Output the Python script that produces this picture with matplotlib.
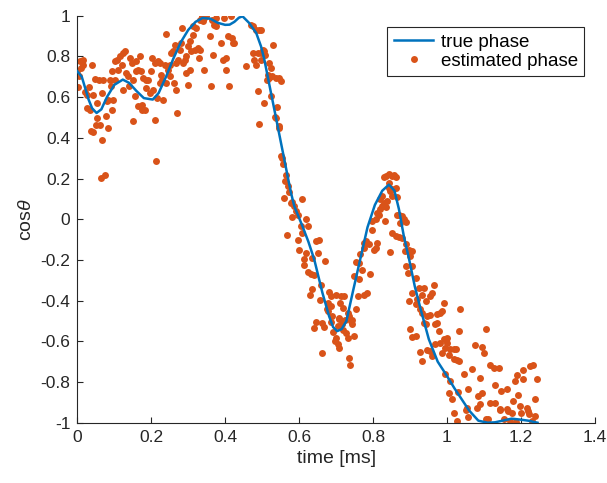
import matplotlib
matplotlib.use("Agg")
import matplotlib.pyplot as plt
from matplotlib.ticker import FuncFormatter

plt.rcParams["font.family"] = ["Liberation Sans", "DejaVu Sans"]
plt.rcParams["axes.unicode_minus"] = False
plt.rcParams["mathtext.fontset"] = "custom"
plt.rcParams["mathtext.it"] = "Liberation Sans:italic"

# true phase
t_true = [0.000, 0.012, 0.022, 0.030, 0.040, 0.052, 0.065, 0.080, 0.100, 0.123,
          0.140, 0.160, 0.180, 0.204, 0.220, 0.240, 0.260, 0.280, 0.300, 0.320,
          0.339, 0.360, 0.380, 0.400, 0.412, 0.425, 0.437, 0.447, 0.465, 0.484,
          0.497, 0.506, 0.515, 0.524, 0.533, 0.542, 0.551, 0.560, 0.569, 0.578,
          0.587, 0.609, 0.625, 0.641, 0.663, 0.681, 0.692, 0.703, 0.715, 0.728,
          0.745, 0.765, 0.785, 0.805, 0.825, 0.843, 0.858, 0.870, 0.883, 0.898,
          0.913, 0.930, 0.951, 0.975, 1.000, 1.020, 1.040, 1.060, 1.085, 1.110,
          1.130, 1.150, 1.175, 1.200, 1.220, 1.245]
v_true = [0.727, 0.700, 0.640, 0.590, 0.545, 0.522, 0.540, 0.600, 0.660, 0.686,
          0.670, 0.630, 0.595, 0.588, 0.620, 0.700, 0.790, 0.870, 0.930, 0.970,
          0.989, 0.985, 0.965, 0.955, 0.956, 0.970, 0.990, 0.997, 0.964, 0.915,
          0.849, 0.784, 0.702, 0.620, 0.539, 0.457, 0.375, 0.293, 0.211, 0.130,
          0.064, -0.034, -0.110, -0.198, -0.361, -0.476, -0.530, -0.550, -0.540, -0.500,
          -0.360, -0.200, -0.040, 0.070, 0.140, 0.170, 0.140, 0.050, -0.080, -0.200,
          -0.330, -0.450, -0.590, -0.700, -0.770, -0.830, -0.885, -0.940, -0.990, -1.000,
          -0.998, -0.990, -0.980, -0.985, -0.990, -1.000]

# estimated phase samples
t_est = [
    # 0 - 0.46
    0.000, 0.007, 0.0145, 0.0055, 0.009, 0.003, 0.016, 0.021, 0.025, 0.025,
    0.032, 0.039, 0.034, 0.036, 0.043, 0.043, 0.048, 0.052, 0.052, 0.050,
    0.059, 0.066, 0.061, 0.068, 0.063, 0.070, 0.075, 0.077, 0.079, 0.084,
    0.084, 0.088, 0.093, 0.097, 0.095, 0.090, 0.102, 0.106, 0.102, 0.111,
    0.115, 0.120, 0.124, 0.124, 0.129, 0.133, 0.138, 0.140, 0.142, 0.147,
    0.151, 0.151, 0.156, 0.158, 0.160, 0.165, 0.165, 0.169, 0.171, 0.174,
    0.176, 0.178, 0.182, 0.185, 0.187, 0.191, 0.196, 0.200, 0.203, 0.205,
    0.209, 0.212, 0.209, 0.216, 0.218, 0.223, 0.223, 0.227, 0.230, 0.232,
    0.236, 0.241, 0.241, 0.245, 0.250, 0.250, 0.254, 0.259, 0.261, 0.263,
    0.266, 0.268, 0.270, 0.272, 0.277, 0.281, 0.284, 0.286, 0.290, 0.293,
    0.295, 0.299, 0.299, 0.304, 0.306, 0.308, 0.313, 0.313, 0.317, 0.322,
    0.326, 0.329, 0.331, 0.333, 0.338, 0.340, 0.343, 0.344, 0.349, 0.358,
    0.362, 0.365, 0.367, 0.371, 0.374, 0.376, 0.389, 0.394, 0.398, 0.401,
    0.403, 0.407, 0.410, 0.416, 0.419, 0.421, 0.425, 0.457,
    # first fall
    0.470, 0.476, 0.483, 0.491, 0.497, 0.530, 0.474, 0.479, 0.483, 0.488,
    0.497, 0.501, 0.506, 0.509, 0.497, 0.518, 0.524, 0.515, 0.519, 0.512,
    0.528, 0.537, 0.545, 0.551, 0.488, 0.524, 0.506, 0.539, 0.492, 0.536,
    0.537, 0.546, 0.545, 0.551, 0.555, 0.557, 0.564, 0.563, 0.569, 0.573,
    0.560, 0.578, 0.582, 0.609, 0.587,
    0.591, 0.598, 0.581, 0.618, 0.605, 0.625, 0.567, 0.609, 0.596, 0.645,
    0.654, 0.620, 0.650, 0.600, 0.614, 0.636, 0.670, 0.614, 0.623, 0.632,
    0.641, 0.660, 0.634, 0.630, 0.657, 0.681, 0.686, 0.699, 0.713, 0.722,
    0.679, 0.686, 0.710, 0.675, 0.679, 0.720, 0.731, 0.755, 0.690, 0.708,
    0.735,
    # first trough
    0.647, 0.663, 0.668, 0.639, 0.686, 0.692, 0.708, 0.715, 0.724, 0.740,
    0.744, 0.742, 0.706, 0.719, 0.726, 0.733, 0.749, 0.699, 0.697, 0.704,
    0.708, 0.663, 0.735, 0.738,
    # second rise
    0.749, 0.762, 0.758, 0.775, 0.784, 0.771, 0.793, 0.762, 0.753, 0.764,
    0.775, 0.780, 0.789, 0.775, 0.802, 0.811, 0.807, 0.796, 0.798, 0.807,
    0.811, 0.820, 0.816, 0.823, 0.829, 0.834, 0.832, 0.838, 0.820, 0.825,
    0.843, 0.847, 0.852, 0.861, 0.865, 0.843, 0.852, 0.834, 0.829, 0.843,
    0.852, 0.861, 0.856,
    # second fall
    0.870, 0.865, 0.879, 0.883, 0.874, 0.888, 0.852, 0.861, 0.870, 0.879,
    0.888, 0.886, 0.897, 0.906, 0.901, 0.845, 0.888, 0.895, 0.906, 0.915,
    0.906, 0.924, 0.937, 0.933, 0.897, 0.919, 0.915, 0.928, 0.942, 0.933,
    0.946,
    0.960, 0.955, 0.964, 0.955, 0.973, 0.982, 0.987, 0.991, 1.036, 0.937,
    0.942, 0.969, 0.973, 0.978, 0.899, 0.906, 0.917, 0.969, 0.982, 0.991,
    1.000, 1.000, 0.996, 1.009, 1.018, 1.024, 1.033, 1.106, 0.928, 0.946,
    0.955, 0.960, 0.987, 1.005, 1.018, 1.027, 1.032, 0.933, 1.076, 1.094,
    1.099, 1.117, 1.126, 1.141, 0.996, 1.045, 1.067, 1.090, 1.009, 1.005,
    1.014, 1.030, 1.058, 1.085, 1.094, 1.130, 1.147, 1.162, 1.189, 1.207,
    1.225, 1.234, 1.184, 1.207, 1.243, 1.090, 1.117, 1.130, 1.054, 1.081,
    1.144, 1.162, 1.180, 1.193, 1.198, 1.216, 1.238,
    # bottom
    1.018, 1.027, 1.051, 1.057, 1.105, 1.111, 1.144, 1.153, 1.166, 1.175,
    1.200, 1.220, 1.222, 1.238, 1.171, 1.186, 1.229,
]
v_est = [
    0.727, 0.776, 0.781, 0.702, 0.743, 0.650, 0.759, 0.624, 0.612, 0.547,
    0.650, 0.759, 0.539, 0.432, 0.427, 0.612, 0.689, 0.571, 0.498, 0.465,
    0.686, 0.620, 0.465, 0.388, 0.203, 0.686, 0.219, 0.509, 0.579, 0.449,
    0.588, 0.686, 0.539, 0.588, 0.727, 0.653, 0.776, 0.784, 0.686, 0.735,
    0.800, 0.759, 0.817, 0.637, 0.825, 0.719, 0.702, 0.653, 0.792, 0.768,
    0.481, 0.686, 0.604, 0.776, 0.727, 0.555, 0.735, 0.800, 0.727, 0.563,
    0.539, 0.694, 0.539, 0.686, 0.645, 0.686, 0.620, 0.727, 0.792, 0.637,
    0.489, 0.285, 0.768, 0.596, 0.776, 0.669, 0.768, 0.710, 0.686, 0.588,
    0.759, 0.669, 0.912, 0.735, 0.702, 0.759, 0.817, 0.825, 0.669, 0.858,
    0.768, 0.637, 0.522, 0.784, 0.833, 0.866, 0.939, 0.768, 0.784, 0.719,
    0.800, 0.661, 0.849, 0.874, 0.735, 0.825, 0.907, 0.948, 0.833, 0.939,
    0.841, 0.792, 0.833, 0.980, 0.997, 0.972, 0.735, 0.989, 0.997, 0.899,
    0.653, 0.980, 0.809, 0.956, 0.948, 0.989, 0.866, 0.784, 0.989, 0.735,
    0.792, 0.899, 0.653, 0.997, 0.890, 0.866, 0.866, 0.751,
    0.956, 0.948, 0.931, 0.931, 0.931, 0.858, 0.817, 0.784, 0.759, 0.817,
    0.817, 0.833, 0.825, 0.809, 0.784, 0.768, 0.743, 0.710, 0.694, 0.686,
    0.702, 0.694, 0.694, 0.678, 0.629, 0.607, 0.571, 0.552, 0.470, 0.503,
    0.498, 0.449, 0.457, 0.309, 0.301, 0.269, 0.215, 0.187, 0.162, 0.133,
    0.105, 0.080, 0.083, 0.097, 0.064,
    0.039, 0.023, 0.012, -0.001, -0.034, -0.034, -0.078, -0.067, -0.103, -0.108,
    -0.103, -0.165, -0.165, -0.152, -0.195, -0.190, -0.206, -0.227, -0.260, -0.271,
    -0.276, -0.321, -0.342, -0.370, -0.398, -0.358, -0.378, -0.370, -0.375, -0.375,
    -0.411, -0.427, -0.411, -0.443, -0.452, -0.435, -0.460, -0.443, -0.476, -0.484,
    -0.476,
    -0.505, -0.509, -0.528, -0.537, -0.505, -0.555, -0.492, -0.517, -0.496, -0.501,
    -0.496, -0.517, -0.525, -0.545, -0.561, -0.582, -0.574, -0.582, -0.599, -0.615,
    -0.631, -0.656, -0.681, -0.718,
    -0.280, -0.296, -0.378, -0.370, -0.365, -0.250, -0.271, -0.214, -0.211, -0.173,
    -0.141, -0.108, -0.124, -0.116, -0.149, -0.116, -0.141, -0.051, -0.010, -0.001,
    0.031, 0.048, 0.023, 0.067, 0.080, 0.061, -0.010, 0.089, 0.097, 0.113,
    0.154, 0.138, 0.113, 0.154, 0.110, 0.179, 0.146, 0.211, 0.208, 0.224,
    0.211, 0.208, 0.219,
    0.023, 0.023, 0.015, -0.001, -0.018, -0.015, -0.067, -0.083, -0.087, -0.091,
    -0.124, -0.157, -0.149, -0.157, -0.181, -0.162, -0.231, -0.263, -0.231, -0.288,
    -0.361, -0.337, -0.337, -0.370, -0.402, -0.394, -0.419, -0.443, -0.402, -0.460,
    -0.476,
    -0.361, -0.378, -0.325, -0.473, -0.468, -0.460, -0.452, -0.411, -0.440, -0.509,
    -0.517, -0.517, -0.512, -0.550, -0.538, -0.577, -0.574, -0.615, -0.610, -0.587,
    -0.582, -0.607, -0.631, -0.636, -0.640, -0.636, -0.550, -0.538, -0.653, -0.643,
    -0.648, -0.672, -0.659, -0.669, -0.689, -0.692, -0.697, -0.697, -0.618, -0.627,
    -0.659, -0.717, -0.730, -0.730, -0.762, -0.762, -0.735, -0.779, -0.795, -0.856,
    -0.882, -0.849, -0.836, -0.869, -0.852, -0.816, -0.844, -0.836, -0.767, -0.741,
    -0.721, -0.717, -0.795, -0.787, -0.787, -0.910, -0.905, -0.905, -0.926, -0.926,
    -0.931, -0.931, -0.893, -0.865, -0.918, -0.926, -0.885,
    -0.954, -0.992, -0.938, -0.970, -0.983, -0.983, -0.938, -0.980, -0.942, -0.951,
    -0.954, -0.942, -0.959, -0.967, -0.992, -0.996, -0.992,
]

x_ticks = [0, 0.2, 0.4, 0.6, 0.8, 1.0, 1.2, 1.4]
y_ticks = [-1, -0.8, -0.6, -0.4, -0.2, 0, 0.2, 0.4, 0.6, 0.8, 1]

fig = plt.figure(figsize=(6.07, 4.83), dpi=100)
ax = fig.add_axes([0.1274, 0.1248, 0.8525, 0.8427])

ax.plot(t_true, v_true, color="#0072BD", linewidth=1.8, label="true phase", zorder=3)
ax.plot(t_est, v_est, linestyle="none", marker="o", markersize=5.0,
        markeredgewidth=0, color="#D95319", label="estimated phase", zorder=2)

ax.set_xlim(0, 1.4)
ax.set_ylim(-1, 1)
ax.set_xticks(x_ticks)
ax.set_yticks(y_ticks)
fmt = FuncFormatter(lambda v, pos: f"{v:g}")
ax.xaxis.set_major_formatter(fmt)
ax.yaxis.set_major_formatter(fmt)

for side in ("top", "right"):
    ax.spines[side].set_visible(False)
for side in ("left", "bottom"):
    ax.spines[side].set_color("#262626")
    ax.spines[side].set_linewidth(0.8)
ax.tick_params(direction="in", length=4, width=0.8, colors="#262626",
               labelsize=12.5, pad=5)

ax.set_xlabel("time [ms]", fontsize=14, color="#262626", labelpad=4)
ax.set_ylabel(r"cos$\theta$", fontsize=14, color="#262626", labelpad=4)

leg = ax.legend(loc="upper right", bbox_to_anchor=(0.98, 0.972), fontsize=13.5,
                frameon=True, fancybox=False, borderpad=0.35, handlelength=2.1,
                handletextpad=0.4, labelspacing=0.1, borderaxespad=0)
leg.get_frame().set_edgecolor("#262626")
leg.get_frame().set_linewidth(0.8)
leg.get_frame().set_alpha(1)

fig.savefig("out.png", dpi=100)
